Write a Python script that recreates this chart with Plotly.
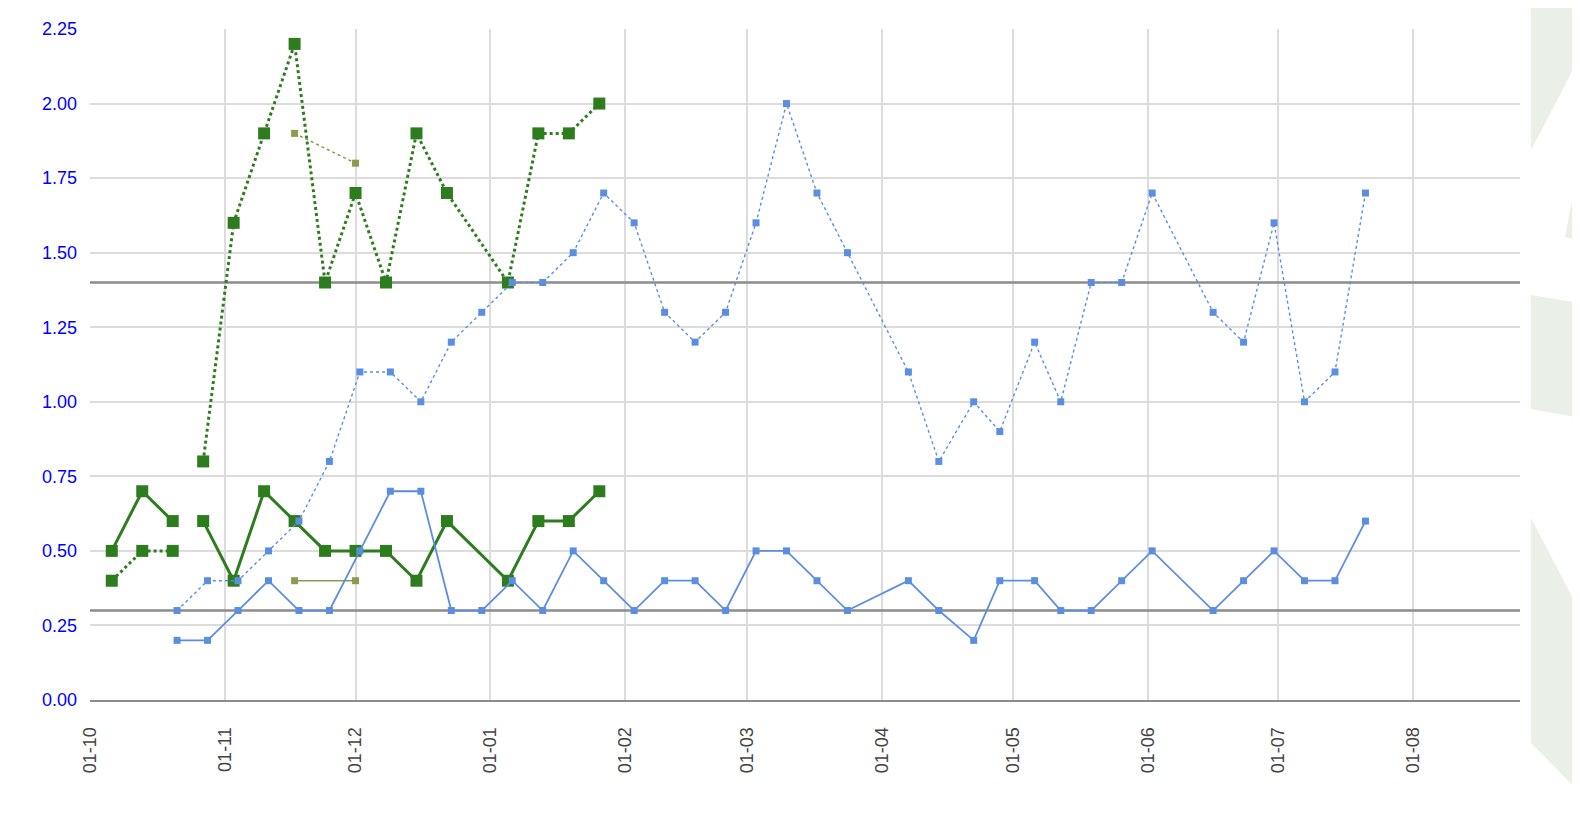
import plotly.graph_objects as go

# weekly readings, two groups (saturday and sunday series)
green_dates_a = ["2012-10-06", "2012-10-13", "2012-10-20"]
green_solid_a = [0.5, 0.7, 0.6]
green_dotted_a = [0.4, 0.5, 0.5]

green_dates_b = [
    "2012-10-27", "2012-11-03", "2012-11-10", "2012-11-17", "2012-11-24",
    "2012-12-01", "2012-12-08", "2012-12-15", "2012-12-22", "2013-01-05",
    "2013-01-12", "2013-01-19", "2013-01-26",
]
green_solid_b = [0.6, 0.4, 0.7, 0.6, 0.5, 0.5, 0.5, 0.4, 0.6, 0.4, 0.6, 0.6, 0.7]
green_dotted_b = [0.8, 1.6, 1.9, 2.2, 1.4, 1.7, 1.4, 1.9, 1.7, 1.4, 1.9, 1.9, 2.0]

olive_dates = ["2012-11-17", "2012-12-01"]
olive_solid = [0.4, 0.4]
olive_dotted = [1.9, 1.8]

blue_dates = [
    "2012-10-21", "2012-10-28", "2012-11-04", "2012-11-11", "2012-11-18",
    "2012-11-25", "2012-12-02", "2012-12-09", "2012-12-16", "2012-12-23",
    "2012-12-30", "2013-01-06", "2013-01-13", "2013-01-20", "2013-01-27",
    "2013-02-03", "2013-02-10", "2013-02-17", "2013-02-24", "2013-03-03",
    "2013-03-10", "2013-03-17", "2013-03-24", "2013-04-07", "2013-04-14",
    "2013-04-22", "2013-04-28", "2013-05-06", "2013-05-12", "2013-05-19",
    "2013-05-26", "2013-06-02", "2013-06-16", "2013-06-23", "2013-06-30",
    "2013-07-07", "2013-07-14", "2013-07-21",
]
blue_dotted = [
    0.3, 0.4, 0.4, 0.5, 0.6, 0.8, 1.1, 1.1, 1.0, 1.2,
    1.3, 1.4, 1.4, 1.5, 1.7, 1.6, 1.3, 1.2, 1.3, 1.6,
    2.0, 1.7, 1.5, 1.1, 0.8, 1.0, 0.9, 1.2, 1.0, 1.4,
    1.4, 1.7, 1.3, 1.2, 1.6, 1.0, 1.1, 1.7,
]
blue_solid = [
    0.2, 0.2, 0.3, 0.4, 0.3, 0.3, 0.5, 0.7, 0.7, 0.3,
    0.3, 0.4, 0.3, 0.5, 0.4, 0.3, 0.4, 0.4, 0.3, 0.5,
    0.5, 0.4, 0.3, 0.4, 0.3, 0.2, 0.4, 0.4, 0.3, 0.3,
    0.4, 0.5, 0.3, 0.4, 0.5, 0.4, 0.4, 0.6,
]

limits = [1.4, 0.3]

x_range = ["2012-10-01", "2013-08-25 12:00"]
y_ticks = [0, 0.25, 0.5, 0.75, 1.0, 1.25, 1.5, 1.75, 2.0, 2.25]

GREEN = "#2d7d1f"
OLIVE = "#8a9c50"
BLUE = "#5b8ee0"

# the page body keeps its default 8px margin
OFF = 8
W, H = 1572, 822
L, R, T, B = 82, 60, 21, 130


def add_series(fig, x, y, color, dash, width, size):
    fig.add_trace(
        go.Scatter(
            x=x,
            y=y,
            mode="lines+markers",
            line=dict(color=color, width=width, dash=dash),
            marker=dict(symbol="square", size=size, color=color),
            showlegend=False,
            hoverinfo="x+y",
        )
    )


def px_path(points):
    # page pixel coords -> paper coords of the plot
    pw, ph = W - L - R, H - T - B
    parts = []
    for i, (px, py) in enumerate(points):
        xp = (px - OFF - L) / pw
        yp = (H - B - (py - OFF)) / ph
        parts.append(("M" if i == 0 else "L") + f"{xp:.4f},{yp:.4f}")
    return " ".join(parts) + " Z"


fig = go.Figure()

# limit lines first so the series sit on top of them
for v in limits:
    fig.add_trace(
        go.Scatter(
            x=x_range,
            y=[v, v],
            mode="lines",
            line=dict(color="#8c8c8c", width=2.5),
            showlegend=False,
            hoverinfo="skip",
        )
    )

add_series(fig, green_dates_a, green_solid_a, GREEN, "solid", 3, 12)
add_series(fig, green_dates_a, green_dotted_a, GREEN, "dot", 3, 12)
add_series(fig, green_dates_b, green_solid_b, GREEN, "solid", 3, 12)
add_series(fig, green_dates_b, green_dotted_b, GREEN, "dot", 3, 12)
add_series(fig, olive_dates, olive_solid, OLIVE, "solid", 1.5, 7)
add_series(fig, olive_dates, olive_dotted, OLIVE, "dot", 1.5, 7)
add_series(fig, blue_dates, blue_solid, BLUE, "solid", 1.8, 7)
add_series(fig, blue_dates, blue_dotted, BLUE, "dot", 1.4, 7)

# faint logo watermark at the right edge
watermark = [
    [(1482, 8), (1580, 8), (1580, 55), (1560, 95), (1531, 150), (1531, 8)],
    [(1580, 157), (1565, 237), (1580, 240)],
    [(1531, 295), (1580, 303), (1580, 418), (1531, 409)],
    [(1575, 470), (1580, 470), (1580, 492)],
    [(1531, 518), (1580, 612), (1580, 793), (1531, 743)],
]
for pts in watermark:
    fig.add_shape(
        type="path",
        path=px_path(pts),
        xref="paper",
        yref="paper",
        fillcolor="#eaefe8",
        line=dict(width=0),
        layer="below",
    )

fig.update_xaxes(
    type="date",
    range=x_range,
    tick0="2012-10-01",
    dtick="M1",
    tickformat="%d-%m",
    tickangle=-90,
    tickfont=dict(family="Liberation Sans, Arial", size=18, color="#444444"),
    ticklabelstandoff=18,
    showgrid=True,
    gridcolor="#dcdcdc",
    gridwidth=1.5,
    showline=True,
    linecolor="#8c8c8c",
    linewidth=2,
    zeroline=False,
)
fig.update_yaxes(
    range=[0, 2.25],
    tickvals=y_ticks,
    tickformat=".2f",
    tickfont=dict(family="Liberation Sans, Arial", size=18, color="#0000ff"),
    ticklabelstandoff=12,
    showgrid=True,
    gridcolor="#dcdcdc",
    gridwidth=1.5,
    zeroline=False,
)
fig.update_layout(
    width=W,
    height=H,
    margin=dict(l=L, r=R, t=T, b=B),
    paper_bgcolor="white",
    plot_bgcolor="white",
    showlegend=False,
)

fig.write_html("out.html")
